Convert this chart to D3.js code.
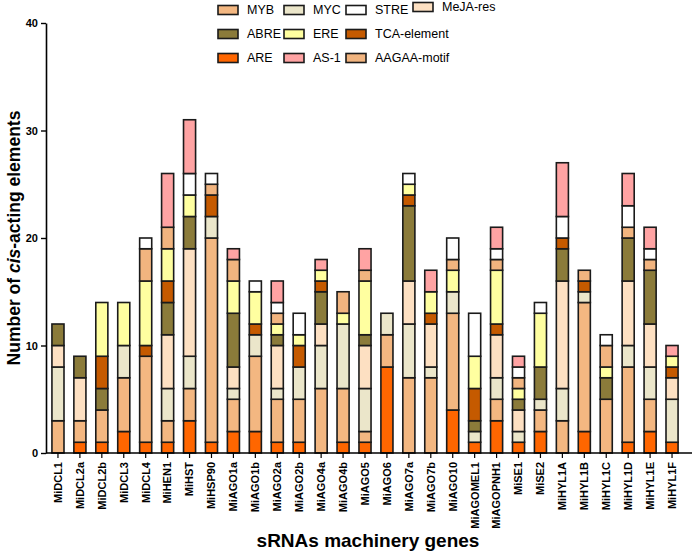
<!DOCTYPE html>
<html>
<head>
<meta charset="utf-8">
<script src="https://cdn.jsdelivr.net/npm/d3@7"></script>
<style>
  body { margin: 0; background: #fff; }
  svg text { font-family: "Liberation Sans", Arial, sans-serif; }
</style>
</head>
<body>
<svg id="chart" width="696" height="555"></svg>
<script>
/* ---------- data -------------------------------------------- */
const genes = ['MiDCL1','MiDCL2a','MiDCL2b','MiDCL3','MiDCL4','MiHEN1','MiHST','MiHSP90',
  'MiAGO1a','MiAGO1b','MiAGO2a','MiAGO2b','MiAGO4a','MiAGO4b','MiAGO5','MiAGO6',
  'MiAGO7a','MiAGO7b','MiAGO10','MiAGOMEL1','MiAGOPNH1','MiSE1','MiSE2',
  'MiHYL1A','MiHYL1B','MiHYL1C','MiHYL1D','MiHYL1E','MiHYL1F'];

// stack order, bottom -> top
const elements = ['ARE','MYB','MYC','MeJA-res','ABRE','TCA-element','ERE','AAGAA-motif','STRE','AS-1'];

const ARE      = [0,1,1,2,1,1,3,1, 2,2,1,1,0,1,1,8, 0,0,4,1,3,1,2, 0,2,0,1,2,1];
const MYB      = [3,2,3,5,8,2,3,19, 3,7,4,4,6,5,1,3, 7,7,9,0,2,0,2, 3,12,5,7,3,0];
const MYC      = [5,0,0,3,0,3,3,2, 1,2,1,3,4,6,4,2, 5,1,2,1,2,1,1, 3,1,0,2,3,4];
const MeJA     = [2,4,0,0,0,5,10,0, 2,0,4,0,2,0,4,0, 4,4,0,0,4,2,0, 10,0,0,6,4,2];
const ABRE     = [2,2,2,0,0,3,3,0, 5,0,1,0,3,0,1,0, 7,0,0,1,0,1,3, 3,0,2,4,5,0];
const TCA      = [0,0,3,0,1,2,0,2, 0,1,0,2,1,0,0,0, 1,1,0,3,1,0,0, 1,1,0,0,0,1];
const ERE      = [0,0,5,4,6,3,2,0, 3,3,1,1,1,1,5,0, 1,2,2,3,5,1,5, 0,0,1,0,0,1];
const AAGAA    = [0,0,0,0,3,2,0,1, 2,0,1,0,0,2,1,0, 0,0,1,0,1,1,0, 0,1,2,1,1,0];
const STRE     = [0,0,0,0,1,0,2,1, 0,1,1,2,0,0,0,0, 1,0,2,4,1,1,1, 2,0,1,2,1,0];
const AS1      = [0,0,0,0,0,5,5,0, 1,0,2,0,1,0,2,0, 0,2,0,0,2,1,0, 5,0,0,3,2,1];

const series = [ARE, MYB, MYC, MeJA, ABRE, TCA, ERE, AAGAA, STRE, AS1];

const yTicks = [0, 10, 20, 30, 40];

// legend layout: rows as in the figure
const legendRows = [
  ['MYB','MYC','STRE','MeJA-res'],
  ['ABRE','ERE','TCA-element'],
  ['ARE','AS-1','AAGAA-motif']
];

/* ---------- styles ----------------------------------------- */
const colour = d3.scaleOrdinal()
  .domain(elements)
  .range(['#ff6600','#f3b781','#ebe6ca','#fde0c2','#8b7b3a',
          '#c55a00','#ffffa0','#f1b47f','#ffffff','#ffa3a3']);

const svg = d3.select('#chart');
const M = {l: 47, r: 683, t: 23, b: 453};

const x = d3.scaleBand().domain(genes).range([M.l, M.r])
  .paddingInner(0.45).paddingOuter(0.225);
const y = d3.scaleLinear().domain([0, 40]).range([M.b, M.t]);

/* ---------- stacked bars ----------------------------------- */
const table = genes.map((g, i) => {
  const row = {gene: g};
  elements.forEach((e, k) => row[e] = series[k][i]);
  return row;
});
const stacked = d3.stack().keys(elements)(table);

svg.append('g').selectAll('g')
  .data(stacked)
  .join('g')
    .attr('fill', d => colour(d.key))
  .selectAll('rect')
  .data(d => d.filter(s => s[1] > s[0]))
  .join('rect')
    .attr('x', d => x(d.data.gene))
    .attr('width', x.bandwidth())
    .attr('y', d => y(d[1]))
    .attr('height', d => y(d[0]) - y(d[1]))
    .attr('stroke', '#1a1a1a')
    .attr('stroke-width', 1.6);

/* ---------- axes ------------------------------------------- */
const yAxis = svg.append('g')
  .attr('transform', `translate(${M.l - 1},0)`)
  .call(d3.axisLeft(y).tickValues(yTicks).tickSize(5).tickSizeOuter(0));
yAxis.select('.domain').attr('stroke', '#000').attr('stroke-width', 1.6);
yAxis.selectAll('.tick line').attr('stroke', '#000').attr('stroke-width', 1.4);
yAxis.selectAll('.tick text')
  .attr('font-size', 11).attr('font-weight', 'bold').attr('fill', '#000');

const xAxis = svg.append('g')
  .attr('transform', `translate(0,${M.b})`)
  .call(d3.axisBottom(x).tickSize(5).tickSizeOuter(0));
xAxis.select('.domain').remove();
xAxis.append('line')
  .attr('x1', M.l - 1).attr('x2', 692)
  .attr('stroke', '#000').attr('stroke-width', 1.6);
xAxis.selectAll('.tick line').attr('stroke', '#000').attr('stroke-width', 1.2);
xAxis.selectAll('.tick text')
  .attr('font-size', 11).attr('font-weight', 'bold').attr('fill', '#000')
  .attr('transform', 'rotate(-90)')
  .attr('text-anchor', 'end')
  .attr('x', -9).attr('y', 0).attr('dy', '0.35em');

/* ---------- titles ----------------------------------------- */
svg.append('text')
  .attr('x', 368).attr('y', 547)
  .attr('text-anchor', 'middle')
  .attr('font-size', 19).attr('font-weight', 'bold')
  .text('sRNAs machinery genes');

const yt = svg.append('text')
  .attr('transform', 'translate(20,238) rotate(-90)')
  .attr('text-anchor', 'middle')
  .attr('font-size', 17.5).attr('font-weight', 'bold');
yt.append('tspan').text('Number of ');
yt.append('tspan').attr('font-style', 'italic').text('cis');
yt.append('tspan').text('-acting elements');

/* ---------- legend ----------------------------------------- */
const colX = [218, 284, 346, 413];
const rowY = [10, 34, 58];
const lg = svg.append('g');
legendRows.forEach((row, r) => {
  row.forEach((name, c) => {
    const yy = rowY[r] - (name === 'MeJA-res' ? 3 : 0);
    lg.append('rect')
      .attr('x', colX[c]).attr('y', yy - 4.5)
      .attr('width', 20).attr('height', 9)
      .attr('fill', colour(name))
      .attr('stroke', '#1a1a1a').attr('stroke-width', 1.6);
    lg.append('text')
      .attr('x', colX[c] + 29).attr('y', yy)
      .attr('dy', '0.35em')
      .attr('font-size', 12.5)
      .text(name);
  });
});
</script>
</body>
</html>
